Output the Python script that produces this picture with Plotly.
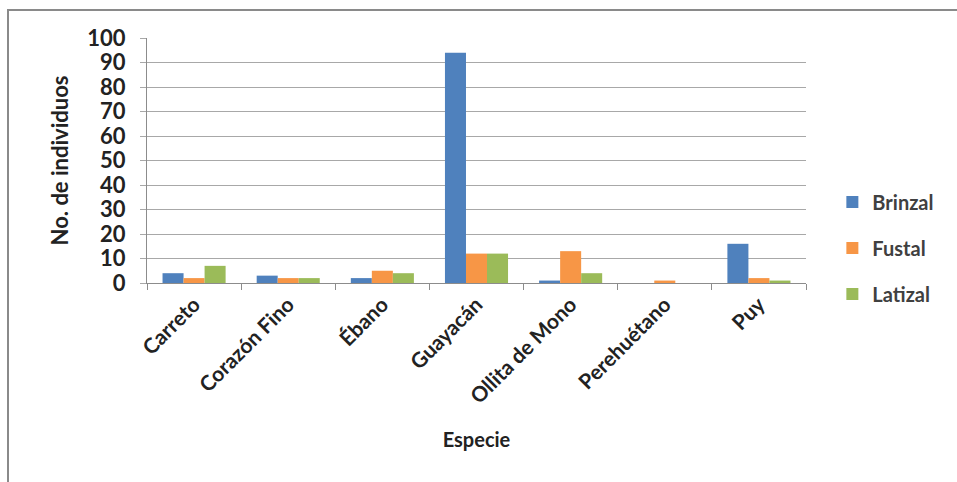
import plotly.graph_objects as go

especies = ["Carreto", "Corazón Fino", "Ébano", "Guayacán", "Ollita de Mono", "Perehuétano", "Puy"]
brinzal = [4, 3, 2, 94, 1, 0, 16]
fustal = [2, 2, 5, 12, 13, 1, 2]
latizal = [7, 2, 4, 12, 4, 0, 1]

colors = {"Brinzal": "#4F81BD", "Fustal": "#F79646", "Latizal": "#9BBB59"}
FONT = "Lato"

fig = go.Figure()
for name, vals in [("Brinzal", brinzal), ("Fustal", fustal), ("Latizal", latizal)]:
    fig.add_trace(go.Bar(x=especies, y=vals, name=name, legendgroup=name,
                         marker=dict(color=colors[name], line=dict(width=0))))

fig.update_layout(
    width=957, height=482,
    paper_bgcolor="white", plot_bgcolor="white",
    margin=dict(l=147, r=151, t=38, b=199),
    barmode="group", bargap=0.33, bargroupgap=0,
    font=dict(family=FONT, color="#222222"),
    legend=dict(x=1.04, y=0.41, xanchor="left", yanchor="top",
                font=dict(family=FONT, size=20, color="#404040", weight="bold"),
                tracegroupgap=17, traceorder="grouped", bgcolor="rgba(0,0,0,0)"),
    xaxis=dict(
        title=dict(text="Especie", font=dict(family=FONT, size=20, weight="bold", color="#222222"), standoff=26),
        tickangle=-45, tickfont=dict(family=FONT, size=21, weight="bold", color="#222222"),
        showline=True, linecolor="#8c8c8c", linewidth=1,
        ticks="outside", ticklen=6, tickcolor="#8c8c8c", tickson="boundaries",
        showgrid=False,
    ),
    yaxis=dict(
        title=dict(text="No. de individuos", font=dict(family=FONT, size=22, weight="bold", color="#222222"), standoff=12),
        range=[0, 100], dtick=10,
        tickfont=dict(family=FONT, size=22, weight="bold", color="#222222"),
        ticklabelstandoff=10,
        showline=True, linecolor="#8c8c8c", linewidth=1,
        ticks="outside", ticklen=6, tickcolor="#a8a8a8",
        showgrid=True, gridcolor="#a8a8a8", gridwidth=1,
        zeroline=False,
    ),
)

# outer frame of the chart (top and left edges visible)
fig.add_shape(type="rect", xref="paper", yref="paper",
              x0=(8 - 147) / 659, x1=(975 - 147) / 659,
              y0=(283 - 500) / 245, y1=(283 - 10) / 245,
              line=dict(color="#8a8a8a", width=2), fillcolor="rgba(0,0,0,0)", layer="below")

fig.write_html("out.html")
